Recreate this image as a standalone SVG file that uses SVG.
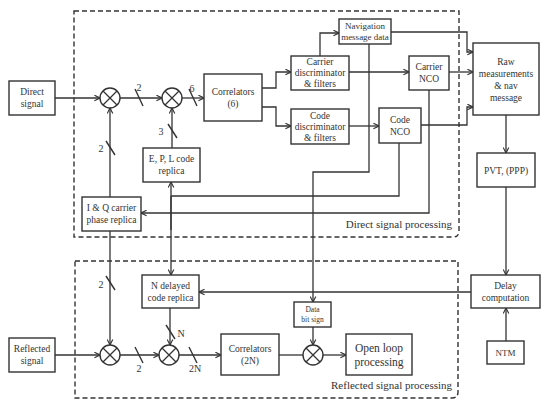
<svg xmlns="http://www.w3.org/2000/svg" width="550" height="408" viewBox="0 0 550 408">
<style>
.b{fill:#fff;stroke:#333;stroke-width:1.4}
.t{font-family:"Liberation Serif","DejaVu Serif",serif;font-size:9.5px;fill:#333;text-anchor:middle}
.l{fill:none;stroke:#333;stroke-width:1.3}
.a{fill:none;stroke:#333;stroke-width:1.3;marker-end:url(#ah)}
.d{fill:none;stroke:#333;stroke-width:1.4;stroke-dasharray:5 3}
.s{stroke:#333;stroke-width:1.4}
</style>
<defs>
<marker id="ah" viewBox="0 0 10 10" refX="9" refY="5" markerWidth="7" markerHeight="7" markerUnits="userSpaceOnUse" orient="auto">
<path d="M1,1 L9,5 L1,9" fill="none" stroke="#333" stroke-width="1.6"/>
</marker>
<g id="mx"><circle r="10" fill="#fff" stroke="#333" stroke-width="1.4"/><path d="M-7,-7 L7,7 M7,-7 L-7,7" stroke="#333" stroke-width="1.3" fill="none"/></g>
</defs>
<rect width="550" height="408" fill="#fff"/>
<g id="regions">
<path class="d" d="M74,11 H459 V231 Q459,237 453,237 H74 Z"/>
<path class="d" d="M75,261 H458 V392 Q458,398 452,398 H75 Z"/>
<text class="t" x="452" y="228" style="text-anchor:end;font-size:11px">Direct signal processing</text>
<text class="t" x="452" y="389" style="text-anchor:end;font-size:11px">Reflected signal processing</text>
</g>
<g id="connectors">
<path class="a" d="M55,98 H100"/>
<path class="a" d="M120,98 H162"/>
<path class="a" d="M182,98 H204"/>
<path class="a" d="M172,148 V108"/>
<path class="a" d="M110,197 V108"/>
<path class="a" d="M262,88 H276 V72 H291"/>
<path class="a" d="M262,107 H276 V126 H291"/>
<path class="a" d="M320,56 V33 H339"/>
<path class="a" d="M349,72 H409"/>
<path class="a" d="M349,126 H379"/>
<path class="a" d="M391,32 H467 V52 H473"/>
<path class="a" d="M449,72 H473"/>
<path class="a" d="M421,125 H467 V107 H473"/>
<path class="a" d="M506,115 V153"/>
<path class="a" d="M506,187 V275"/>
<path class="a" d="M506,341 V308"/>
<path class="a" d="M471,292 H199"/>
<path class="a" d="M429,90 V213 H141"/>
<path class="l" d="M399,143 V196 H171"/>
<path class="a" d="M171,230 V182"/>
<path class="a" d="M171,196 V275"/>
<path class="a" d="M369,44 V172 H313 V302"/>
<path class="a" d="M110,231 V345"/>
<path class="a" d="M55,355 H100"/>
<path class="a" d="M120,355 H159"/>
<path class="a" d="M170,308 V345"/>
<path class="a" d="M179,355 H221"/>
<path class="l" d="M279,355 H303"/>
<path class="a" d="M313,327 V345"/>
<path class="a" d="M323,355 H346"/>
<g id="buses">
<line class="s" x1="135" y1="89" x2="143" y2="106"/>
<line class="s" x1="189" y1="89" x2="197" y2="106"/>
<line class="s" x1="168" y1="124" x2="177" y2="138"/>
<line class="s" x1="106" y1="141" x2="115" y2="155"/>
<line class="s" x1="106" y1="276" x2="115" y2="290"/>
<line class="s" x1="135" y1="347" x2="143" y2="363"/>
<line class="s" x1="166" y1="325" x2="175" y2="339"/>
<line class="s" x1="189" y1="347" x2="197" y2="363"/>
<text class="t" x="139" y="91" style="font-size:10px">2</text>
<text class="t" x="192" y="92" style="font-size:10px">6</text>
<text class="t" x="161" y="135" style="font-size:10px">3</text>
<text class="t" x="101" y="152" style="font-size:10px">2</text>
<text class="t" x="101" y="288" style="font-size:10px">2</text>
<text class="t" x="139" y="372" style="font-size:10px">2</text>
<text class="t" x="181" y="337" style="font-size:10px">N</text>
<text class="t" x="195" y="372" style="font-size:10px">2N</text>
</g>
</g>
<g id="direct-signal"><rect class="b" x="9" y="81" width="46" height="34"/><text class="t" x="32" y="95">Direct</text><text class="t" x="32" y="107">signal</text></g>
<g id="mixer1"><use href="#mx" x="110" y="98"/></g>
<g id="mixer2"><use href="#mx" x="172" y="98"/></g>
<g id="correlators6"><rect class="b" x="204" y="74" width="58" height="47"/><text class="t" x="233" y="95">Correlators</text><text class="t" x="233" y="107">(6)</text></g>
<g id="epl-replica"><rect class="b" x="143" y="148" width="57" height="34"/><text class="t" x="171.5" y="162">E, P, L code</text><text class="t" x="171.5" y="174">replica</text></g>
<g id="iq-replica"><rect class="b" x="82" y="197" width="59" height="34"/><text class="t" x="111.5" y="211">I &amp; Q carrier</text><text class="t" x="111.5" y="223">phase replica</text></g>
<g id="carrier-disc"><rect class="b" x="291" y="56" width="58" height="34"/><text class="t" x="320" y="65">Carrier</text><text class="t" x="320" y="76">discriminator</text><text class="t" x="320" y="87">&amp; filters</text></g>
<g id="code-disc"><rect class="b" x="291" y="109" width="58" height="35"/><text class="t" x="320" y="119">Code</text><text class="t" x="320" y="130">discriminator</text><text class="t" x="320" y="141">&amp; filters</text></g>
<g id="nav-msg"><rect class="b" x="339" y="19" width="52" height="25"/><text class="t" x="365" y="29" style="font-size:9px">Navigation</text><text class="t" x="365" y="40" style="font-size:9px">message data</text></g>
<g id="carrier-nco"><rect class="b" x="409" y="56" width="40" height="34"/><text class="t" x="429" y="70">Carrier</text><text class="t" x="429" y="82">NCO</text></g>
<g id="code-nco"><rect class="b" x="379" y="108" width="42" height="35"/><text class="t" x="400" y="123">Code</text><text class="t" x="400" y="135">NCO</text></g>
<g id="raw-meas"><rect class="b" x="473" y="43" width="66" height="72"/><text class="t" x="506" y="65">Raw</text><text class="t" x="506" y="77">measurements</text><text class="t" x="506" y="89">&amp; nav</text><text class="t" x="506" y="101">message</text></g>
<g id="pvt"><rect class="b" x="477" y="153" width="58" height="34"/><text class="t" x="506" y="174">PVT, (PPP)</text></g>
<g id="delay-comp"><rect class="b" x="471" y="275" width="69" height="33"/><text class="t" x="505.5" y="289">Delay</text><text class="t" x="505.5" y="301">computation</text></g>
<g id="ntm"><rect class="b" x="487" y="341" width="37" height="23"/><text class="t" x="505.5" y="356" style="font-size:9px">NTM</text></g>
<g id="reflected-signal"><rect class="b" x="9" y="338" width="46" height="34"/><text class="t" x="32" y="352">Reflected</text><text class="t" x="32" y="364">signal</text></g>
<g id="mixer3"><use href="#mx" x="110" y="355"/></g>
<g id="mixer4"><use href="#mx" x="169" y="355"/></g>
<g id="n-delayed"><rect class="b" x="142" y="275" width="57" height="33"/><text class="t" x="170.5" y="289">N delayed</text><text class="t" x="170.5" y="301">code replica</text></g>
<g id="correlators2n"><rect class="b" x="221" y="334" width="58" height="41"/><text class="t" x="250" y="352">Correlators</text><text class="t" x="250" y="364">(2N)</text></g>
<g id="data-bit"><rect class="b" x="294" y="302" width="37" height="25"/><text class="t" x="312.5" y="312" style="font-size:7.5px">Data</text><text class="t" x="312.5" y="322" style="font-size:7.5px">bit sign</text></g>
<g id="mixer5"><use href="#mx" x="313" y="355"/></g>
<g id="open-loop"><rect class="b" x="346" y="334" width="66" height="41"/><text class="t" x="379" y="352" style="font-size:11.5px">Open loop</text><text class="t" x="379" y="366" style="font-size:11.5px">processing</text></g>
</svg>
